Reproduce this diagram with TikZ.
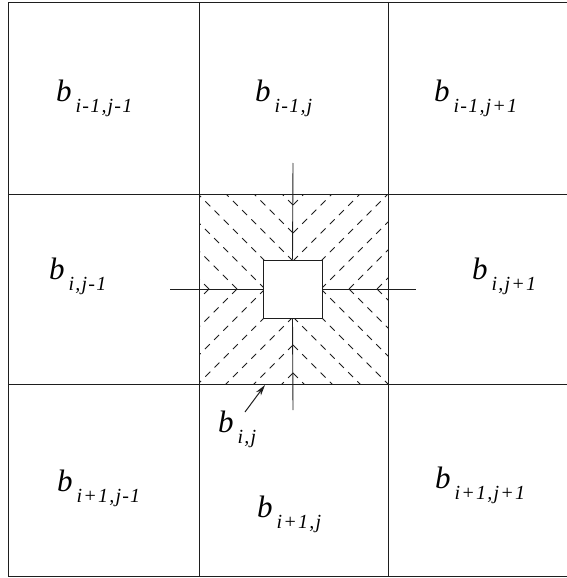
\documentclass[tikz,border=0pt]{standalone}
\usepackage{fontspec}
\setmainfont{Liberation Serif}[ItalicFont={Liberation Serif Italic}]
\newfontfamily\bfnt{Liberation Serif Italic}
\newfontfamily\subf[LetterSpace=6]{Liberation Serif Italic}
\usetikzlibrary{arrows.meta}
\newcommand{\lbl}[1]{{\bfnt\fontsize{31}{31}\selectfont b}\kern4pt\raisebox{-11pt}{\subf\fontsize{20}{20}\selectfont #1}}
\definecolor{ink}{HTML}{1E1E1E}
\tikzset{
  gridline/.style={draw=ink, line width=0.9pt},
  hatch/.style={draw=ink, line width=0.75pt, dash pattern=on 7pt off 6pt},
  lab/.style={anchor=base west, inner sep=0pt, text=black},
}
\begin{document}
\begin{tikzpicture}[x=1pt,y=-1pt]
\useasboundingbox (0,0) rectangle (567,578);
\fill[white] (0,0) rectangle (567,578);
% hatching
\def\cx{293}\def\cy{289}
\foreach \sx/\sy/\xa/\ya/\xb/\yb in {-1/-1/199/194/293/289, 1/-1/293/194/388/289, -1/1/199/289/293/384, 1/1/293/289/388/384}{
  \begin{scope}
    \clip (\xa,\ya) rectangle (\xb,\yb);
    \draw[hatch] (\cx,\cy) -- ++(\sx*150,\sy*150);
    \foreach \m in {1,2,3}{
      \draw[hatch] (\cx+\sx*28*\m,\cy) -- ++(\sx*150,\sy*150);
      \draw[hatch] (\cx,\cy+\sy*28*\m) -- ++(\sx*150,\sy*150);
    }
  \end{scope}
}
% inner square
\node[gridline, fill=white, minimum width=59pt, minimum height=58pt, inner sep=0pt] (sq) at (292.5,289) {};
% grid
\coordinate (tl) at (8,2); \coordinate (tr) at (567,2);
\coordinate (bl) at (8,576); \coordinate (br) at (567,576);
\draw[gridline] (tr) -- (tl) -- (bl) -- (br);
\coordinate (v1t) at (199,2); \coordinate (v1b) at (199,576);
\coordinate (v2t) at (388,2); \coordinate (v2b) at (388,576);
\coordinate (h1l) at (8,194); \coordinate (h1r) at (567,194);
\coordinate (h2l) at (8,384); \coordinate (h2r) at (567,384);
\draw[gridline] (v1t) -- (v1b);
\draw[gridline] (v2t) -- (v2b);
\draw[gridline] (h1l) -- (h1r);
\draw[gridline] (h2l) -- (h2r);
% cross
\coordinate (cn) at (293,163); \coordinate (cs) at (293,410);
\coordinate (cw) at (170,289); \coordinate (ce) at (416,289);
\draw[gridline] (sq.north) -- (cn);
\draw[gridline] (sq.south) -- (cs);
\draw[gridline] (sq.west) -- (cw);
\draw[gridline] (sq.east) -- (ce);
% labels
\node[lab] (a11) at (56,101) {\lbl{i-1,j-1}};
\node[lab] (a12) at (255,101) {\lbl{i-1,j}};
\node[lab] (a13) at (434,101) {\lbl{i-1,j+1}};
\node[lab] (a21) at (49,279) {\lbl{i,j-1}};
\node[lab] (a23) at (472,279) {\lbl{i,j+1}};
\node[lab] (a22) at (218,432) {\lbl{i,j}};
\node[lab] (a31) at (57,491) {\lbl{i+1,j-1}};
\node[lab] (a32) at (257,517) {\lbl{i+1,j}};
\node[lab] (a33) at (435,488) {\lbl{i+1,j+1}};
% arrow
\coordinate (ps) at (245,412); \coordinate (pe) at (265,385);
\draw[draw=ink, line width=1pt, -{Stealth[length=11pt,width=6pt]}] (ps) -- (pe);
\end{tikzpicture}
\end{document}
